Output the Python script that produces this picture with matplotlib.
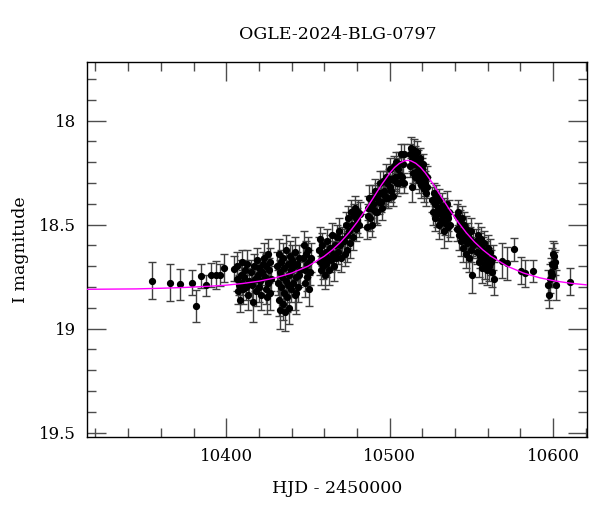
import matplotlib
matplotlib.use("Agg")
import matplotlib.pyplot as plt
from matplotlib.ticker import MultipleLocator


# =========================
# DATA
# =========================

# photometry: HJD - 2450000, I magnitude, error
hjd = [
    10354.7, 10365.7, 10371.6, 10378.8, 10381.6, 10384.7, 10387.8, 10390.8,
    10393.5, 10395.9, 10398.8, 10404.5,
    10406.3, 10406.9, 10407.4, 10407.9, 10408.4, 10408.9, 10409.4, 10409.9,
    10410.4, 10410.9, 10411.5, 10412.0, 10412.6, 10413.2, 10413.8,
    10415.2, 10415.8, 10416.5, 10417.0, 10417.6, 10418.1, 10418.7, 10419.2,
    10419.8, 10420.3, 10420.9, 10421.4, 10421.9, 10422.4,
    10423.3, 10423.7, 10424.1, 10424.6, 10425.0, 10425.4, 10425.8, 10426.2,
    10426.6, 10427.0, 10427.4,
    10431.2, 10431.6, 10432.0, 10432.3, 10432.7, 10433.0, 10433.4, 10433.7,
    10434.1, 10434.5, 10434.8, 10435.2, 10435.6, 10436.0, 10436.3, 10436.7,
    10437.1, 10437.5, 10437.9, 10438.3, 10438.7, 10439.1, 10439.5, 10439.9,
    10440.4, 10440.8, 10441.3, 10441.8, 10442.3, 10442.8, 10443.3, 10443.8,
    10444.3, 10444.8, 10445.3, 10442.9,
    10447.2, 10447.6, 10448.0, 10448.4, 10448.8, 10449.2, 10449.6, 10450.0,
    10450.4, 10450.8, 10451.2, 10451.6,
    10456.8, 10457.2, 10457.6, 10458.0, 10458.4, 10458.8, 10459.3, 10459.8,
    10460.3, 10460.8, 10461.3, 10461.9, 10462.5, 10463.1, 10463.7, 10464.3,
    10464.9, 10465.5, 10466.1, 10466.7, 10467.3, 10467.9, 10468.5, 10469.1,
    10469.7, 10470.3, 10470.9,
    10472.2, 10472.7, 10473.2, 10473.7, 10474.2, 10474.8, 10475.3, 10475.9,
    10476.5, 10477.1, 10477.7, 10478.3, 10478.9, 10479.5, 10480.1, 10480.7,
    10481.3, 10481.9,
    10486.0, 10486.5, 10487.0, 10487.5, 10488.0, 10488.5, 10489.0, 10489.5,
    10490.0, 10490.5, 10491.0, 10491.5, 10492.0, 10492.5, 10493.0, 10493.5,
    10494.0, 10494.5, 10495.0, 10495.5, 10496.0, 10496.5, 10497.0, 10497.5,
    10498.0, 10498.5, 10499.0, 10499.5, 10500.0, 10500.5, 10501.0, 10501.5,
    10502.0, 10502.5, 10503.0, 10503.5, 10504.0, 10504.5, 10505.0, 10505.5,
    10506.0, 10506.5, 10507.0, 10507.5, 10508.0, 10508.5, 10509.0,
    10512.2, 10512.6, 10513.0, 10513.4, 10513.8, 10514.2, 10514.6, 10515.0,
    10515.4, 10515.8, 10516.2, 10516.6, 10517.0, 10517.4, 10517.8, 10518.2,
    10518.6, 10519.0, 10519.4, 10519.8, 10520.2, 10520.6, 10521.0, 10521.4,
    10521.8, 10522.2, 10522.6, 10523.0,
    10526.0, 10526.5, 10527.0, 10527.5, 10528.0, 10528.5, 10529.0, 10529.5,
    10530.0, 10530.5, 10531.0, 10531.5, 10532.0, 10532.5, 10533.0, 10533.5,
    10534.0, 10534.5, 10535.0, 10535.5, 10536.0, 10536.5, 10537.0,
    10541.0, 10541.5, 10542.0, 10542.5, 10543.0, 10543.5, 10544.0, 10544.5,
    10545.0, 10545.5, 10546.0, 10546.5, 10547.0, 10547.5, 10548.0, 10548.5,
    10549.0, 10549.5, 10550.0, 10550.6, 10551.0,
    10553.0, 10553.5, 10554.0, 10554.5, 10555.0, 10555.5, 10556.0, 10556.5,
    10557.0, 10557.5, 10558.0, 10558.5, 10559.0, 10559.5, 10560.0, 10560.5,
    10561.0, 10561.5, 10562.0, 10562.5, 10563.0, 10563.8,
    10569.0, 10571.8, 10575.9, 10580.6, 10582.8, 10587.8,
    10596.9, 10597.6, 10598.2, 10598.7, 10599.1, 10599.6, 10600.0, 10600.4,
    10600.8, 10601.3, 10602.0, 10610.6,
]

mag = [
    18.769, 18.779, 18.787, 18.779, 18.891, 18.747, 18.791, 18.742,
    18.742, 18.742, 18.710, 18.713,
    18.76, 18.70, 18.82, 18.79, 18.86, 18.74, 18.78, 18.68,
    18.81, 18.75, 18.72, 18.80, 18.69, 18.84, 18.77,
    18.73, 18.79, 18.87, 18.70, 18.76, 18.82, 18.67, 18.74,
    18.80, 18.71, 18.77, 18.84, 18.73, 18.69,
    18.66, 18.75, 18.81, 18.70, 18.85, 18.64, 18.78, 18.72,
    18.83, 18.68, 18.76,
    18.70, 18.78, 18.64, 18.86, 18.73, 18.91, 18.68, 18.80,
    18.75, 18.88, 18.66, 18.83, 18.71, 18.92, 18.62, 18.77,
    18.85, 18.69, 18.79, 18.74, 18.90, 18.65, 18.81, 18.72,
    18.67, 18.78, 18.70, 18.84, 18.63, 18.75, 18.69, 18.80,
    18.66, 18.74, 18.72, 18.83,
    18.66, 18.60, 18.72, 18.78, 18.64, 18.69, 18.75, 18.62,
    18.81, 18.68, 18.73, 18.66,
    18.62, 18.68, 18.57, 18.72, 18.64, 18.60, 18.70, 18.66,
    18.74, 18.63, 18.69, 18.58, 18.66, 18.72, 18.61, 18.67,
    18.55, 18.64, 18.70, 18.60, 18.66, 18.56, 18.63, 18.53,
    18.60, 18.66, 18.57,
    18.58, 18.64, 18.50, 18.55, 18.62, 18.47, 18.53, 18.59,
    18.44, 18.50, 18.56, 18.46, 18.42, 18.52, 18.48, 18.44,
    18.50, 18.45,
    18.51, 18.42, 18.46, 18.37, 18.47, 18.42, 18.50, 18.37,
    18.40, 18.43, 18.34, 18.44, 18.37, 18.44, 18.35, 18.39,
    18.30, 18.39, 18.35, 18.42, 18.29, 18.34, 18.36, 18.27,
    18.37, 18.30, 18.37, 18.28, 18.32, 18.23, 18.34, 18.28,
    18.36, 18.22, 18.27, 18.29, 18.20, 18.30, 18.23, 18.30,
    18.21, 18.26, 18.16, 18.27, 18.21, 18.30, 18.16,
    18.16, 18.22, 18.13, 18.32, 18.19, 18.25, 18.14, 18.21,
    18.17, 18.27, 18.20, 18.15, 18.24, 18.19, 18.29, 18.22,
    18.18, 18.26, 18.31, 18.23, 18.28, 18.21, 18.33, 18.26,
    18.30, 18.35, 18.27, 18.32,
    18.38, 18.44, 18.35, 18.47, 18.40, 18.36, 18.45, 18.42,
    18.50, 18.38, 18.44, 18.48, 18.41, 18.46, 18.53, 18.43,
    18.49, 18.45, 18.40, 18.51, 18.47, 18.44, 18.50,
    18.46, 18.52, 18.44, 18.55, 18.49, 18.58, 18.47, 18.53,
    18.61, 18.50, 18.56, 18.64, 18.52, 18.59, 18.55, 18.66,
    18.57, 18.62, 18.53, 18.74, 18.60,
    18.58, 18.63, 18.55, 18.68, 18.60, 18.65, 18.57, 18.71,
    18.62, 18.66, 18.59, 18.69, 18.64, 18.72, 18.61, 18.67,
    18.70, 18.63, 18.68, 18.73, 18.66, 18.76,
    18.673, 18.686, 18.618, 18.721, 18.734, 18.723,
    18.79, 18.84, 18.76, 18.73, 18.69, 18.74, 18.64, 18.70,
    18.65, 18.68, 18.79, 18.774,
]

err = [
    0.088, 0.088, 0.074, 0.060, 0.075, 0.060, 0.050, 0.058,
    0.068, 0.055, 0.068, 0.060,
    0.06, 0.07, 0.06, 0.05, 0.06, 0.07, 0.06, 0.06,
    0.07, 0.06, 0.05, 0.06, 0.07, 0.07, 0.06,
    0.06, 0.07, 0.10, 0.06, 0.06, 0.07, 0.06, 0.06,
    0.07, 0.05, 0.06, 0.07, 0.06, 0.06,
    0.07, 0.06, 0.07, 0.06, 0.08, 0.07, 0.06, 0.06,
    0.08, 0.07, 0.06,
    0.07, 0.06, 0.07, 0.08, 0.06, 0.09, 0.06, 0.07,
    0.06, 0.08, 0.07, 0.07, 0.06, 0.09, 0.07, 0.06,
    0.07, 0.06, 0.06, 0.07, 0.08, 0.07, 0.06, 0.06,
    0.07, 0.06, 0.06, 0.07, 0.07, 0.06, 0.06, 0.07,
    0.06, 0.06, 0.07, 0.10,
    0.06, 0.07, 0.06, 0.07, 0.06, 0.06, 0.07, 0.06,
    0.08, 0.06, 0.06, 0.07,
    0.06, 0.06, 0.06, 0.07, 0.06, 0.06, 0.06, 0.07,
    0.07, 0.06, 0.06, 0.06, 0.06, 0.07, 0.06, 0.06,
    0.06, 0.06, 0.07, 0.06, 0.06, 0.06, 0.06, 0.06,
    0.06, 0.07, 0.06,
    0.06, 0.06, 0.06, 0.06, 0.06, 0.06, 0.06, 0.07,
    0.06, 0.06, 0.06, 0.06, 0.06, 0.06, 0.06, 0.06,
    0.06, 0.06,
    0.06, 0.06, 0.06, 0.06, 0.06, 0.05, 0.06, 0.06,
    0.05, 0.06, 0.06, 0.05, 0.06, 0.06, 0.05, 0.06,
    0.06, 0.05, 0.06, 0.06, 0.05, 0.06, 0.05, 0.06,
    0.05, 0.06, 0.05, 0.05, 0.06, 0.05, 0.05, 0.06,
    0.05, 0.05, 0.06, 0.05, 0.05, 0.06, 0.05, 0.05,
    0.06, 0.05, 0.05, 0.05, 0.06, 0.05, 0.05,
    0.05, 0.05, 0.05, 0.07, 0.05, 0.05, 0.05, 0.05,
    0.05, 0.06, 0.05, 0.05, 0.05, 0.05, 0.06, 0.05,
    0.05, 0.05, 0.06, 0.05, 0.05, 0.05, 0.06, 0.05,
    0.06, 0.06, 0.05, 0.05,
    0.06, 0.06, 0.05, 0.06, 0.06, 0.05, 0.06, 0.06,
    0.07, 0.05, 0.06, 0.06, 0.06, 0.06, 0.08, 0.06,
    0.06, 0.06, 0.06, 0.07, 0.06, 0.06, 0.06,
    0.06, 0.06, 0.06, 0.07, 0.06, 0.07, 0.06, 0.06,
    0.07, 0.06, 0.06, 0.07, 0.06, 0.06, 0.06, 0.07,
    0.06, 0.06, 0.06, 0.09, 0.06,
    0.06, 0.06, 0.06, 0.07, 0.06, 0.06, 0.06, 0.07,
    0.06, 0.06, 0.06, 0.07, 0.06, 0.07, 0.06, 0.06,
    0.07, 0.06, 0.06, 0.07, 0.06, 0.08,
    0.085, 0.080, 0.055, 0.065, 0.065, 0.055,
    0.07, 0.06, 0.07, 0.07, 0.08, 0.06, 0.06, 0.07,
    0.06, 0.06, 0.07, 0.065,
]

# best-fit model curve (magenta)
model_hjd = [
    10315, 10330, 10345, 10360, 10375, 10390, 10400, 10410, 10420, 10430,
    10440, 10450, 10460, 10465, 10470, 10475, 10480, 10485, 10490, 10495,
    10500, 10503, 10506, 10509, 10511, 10513, 10516, 10519, 10522, 10527,
    10532, 10537, 10542, 10547, 10552, 10557, 10562, 10572, 10582, 10592,
    10602, 10612, 10621,
]
model_mag = [
    18.811, 18.810, 18.809, 18.806, 18.802, 18.796, 18.791, 18.783, 18.772, 18.756,
    18.733, 18.700, 18.652, 18.621, 18.584, 18.540, 18.489, 18.432, 18.371, 18.309,
    18.253, 18.225, 18.205, 18.193, 18.191, 18.193, 18.205, 18.225, 18.253, 18.309,
    18.371, 18.432, 18.489, 18.540, 18.584, 18.621, 18.652, 18.700, 18.733, 18.756,
    18.772, 18.783, 18.790,
]


# =========================
# GRAFİK
# =========================

plt.rcParams["font.family"] = ["DejaVu Serif"]

fig = plt.figure(figsize=(6, 5.12), dpi=100)
ax = fig.add_axes([0.1455, 0.147, 0.8335, 0.731])

ax.errorbar(
    hjd, mag, yerr=err,
    fmt="o", color="black", markersize=4.2,
    ecolor="0.25", elinewidth=1.0, capsize=2.8, capthick=1.0,
    zorder=2
)

ax.plot(model_hjd, model_mag, color="#ff00ff", linewidth=1.0, zorder=3)

ax.set_xlim(10315, 10621)
ax.set_ylim(19.52, 17.72)

ax.xaxis.set_major_locator(MultipleLocator(100))
ax.xaxis.set_minor_locator(MultipleLocator(20))
ax.yaxis.set_major_locator(MultipleLocator(0.5))
ax.yaxis.set_minor_locator(MultipleLocator(0.1))
ax.set_yticks([18, 18.5, 19, 19.5])
ax.set_yticklabels(["18", "18.5", "19", "19.5"])

ax.tick_params(which="both", direction="in", top=True, right=True,
               labelsize=12, color="0.3")
ax.tick_params(which="major", length=13.5, width=1.0, pad=8)
ax.tick_params(which="minor", length=6.5, width=1.0)

for sp in ax.spines.values():
    sp.set_linewidth(1.0)

ax.set_title("OGLE-2024-BLG-0797", fontsize=12.5, pad=17)
ax.set_xlabel("HJD - 2450000", fontsize=12.5, labelpad=11)
ax.set_ylabel("I magnitude", fontsize=12.5, labelpad=7)

plt.savefig("out.png", dpi=100)
